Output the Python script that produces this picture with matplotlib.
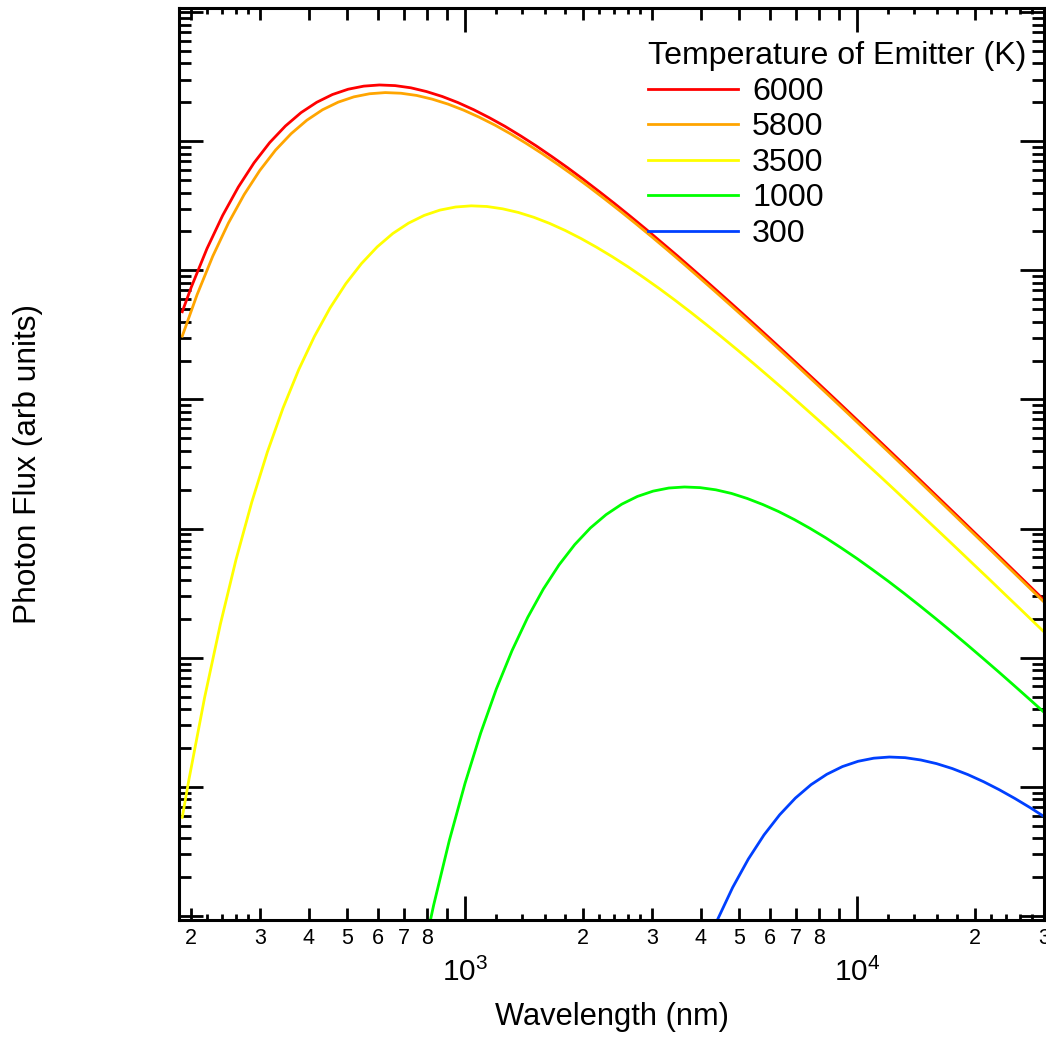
import numpy as np
import matplotlib
matplotlib.use('Agg')
import matplotlib.pyplot as plt
from matplotlib.ticker import LogLocator, FuncFormatter, NullFormatter, NullLocator, FixedLocator

plt.rcParams['font.family'] = ['Liberation Sans', 'DejaVu Sans']
plt.rcParams['mathtext.fontset'] = 'custom'
plt.rcParams['mathtext.rm'] = 'Liberation Sans'
plt.rcParams['mathtext.it'] = 'Liberation Sans:italic'
plt.rcParams['mathtext.bf'] = 'Liberation Sans:bold'

# ---------------------------
# Data
# wavelength in nm, photon flux as log10 (arb units)
# ---------------------------
labels = ['6000', '5800', '3500', '1000', '300']
colors = ['#ff0000', '#ffa500', '#ffff00', '#00ff00', '#0040ff']

wl_6000 = [190, 200.38, 219.71, 240.91, 264.15, 289.63, 317.58, 348.22, 381.81,
           418.65, 459.04, 503.33, 551.89, 605.13, 663.51, 727.53, 797.72,
           874.68, 959.07, 1051.6, 1153.1, 1264.3, 1386.3, 1520.0, 1666.7,
           1827.5, 2003.8, 2197.1, 2409.1, 2641.5, 2896.3, 3175.8, 3482.2,
           3818.1, 4186.5, 4590.4, 5033.3, 5518.9, 6051.3, 6635.1, 7275.3,
           7977.2, 8746.8, 9590.7, 10516, 11531, 12643, 13863, 15200, 16667,
           18275, 20038, 21971, 24091, 26415, 28963, 31758]
log_flux_6000 = [4.679, 4.870, 5.168, 5.425, 5.645, 5.832, 5.989, 6.117, 6.221,
                 6.301, 6.361, 6.402, 6.426, 6.435, 6.430, 6.413, 6.384, 6.346,
                 6.299, 6.244, 6.182, 6.115, 6.041, 5.963, 5.880, 5.794, 5.704,
                 5.611, 5.516, 5.418, 5.318, 5.215, 5.112, 5.006, 4.899, 4.791,
                 4.682, 4.572, 4.461, 4.349, 4.236, 4.123, 4.009, 3.894, 3.779,
                 3.664, 3.548, 3.432, 3.315, 3.198, 3.081, 2.963, 2.846, 2.728,
                 2.610, 2.492, 2.373]

wl_5800 = [190, 207.29, 227.29, 249.21, 273.26, 299.62, 328.53, 360.22, 394.98,
           433.08, 474.87, 520.68, 570.92, 626.00, 686.39, 752.61, 825.22,
           904.84, 992.14, 1087.9, 1192.8, 1307.9, 1434.1, 1572.4, 1724.1,
           1890.5, 2072.9, 2272.9, 2492.1, 2732.6, 2996.2, 3285.3, 3602.2,
           3949.8, 4330.8, 4748.7, 5206.8, 5709.2, 6260.0, 6863.9, 7526.1,
           8252.2, 9048.4, 9921.4, 10879, 11928, 13079, 14341, 15724, 17241,
           18905, 20729, 22729, 24921, 27326, 29962, 32853]
log_flux_5800 = [4.490, 4.811, 5.109, 5.366, 5.586, 5.773, 5.930, 6.058, 6.162,
                 6.243, 6.302, 6.343, 6.367, 6.376, 6.371, 6.354, 6.325, 6.287,
                 6.240, 6.185, 6.124, 6.056, 5.982, 5.904, 5.821, 5.735, 5.645,
                 5.552, 5.457, 5.359, 5.259, 5.157, 5.053, 4.947, 4.840, 4.732,
                 4.623, 4.513, 4.402, 4.290, 4.177, 4.064, 3.950, 3.835, 3.720,
                 3.605, 3.489, 3.373, 3.256, 3.139, 3.022, 2.905, 2.787, 2.669,
                 2.551, 2.433, 2.314]

wl_3500 = [190, 197.67, 216.74, 237.65, 260.57, 285.71, 313.28, 343.50, 376.64,
           412.98, 452.83, 496.51, 544.42, 596.94, 654.53, 717.68, 786.92,
           862.84, 946.09, 1037.4, 1137.4, 1247.2, 1367.5, 1499.4, 1644.1,
           1802.7, 1976.7, 2167.4, 2376.5, 2605.7, 2857.1, 3132.8, 3435.0,
           3766.4, 4129.8, 4528.3, 4965.1, 5444.2, 5969.4, 6545.3, 7176.8,
           7869.2, 8628.4, 9460.9, 10374, 11374, 12472, 13675, 14994, 16441,
           18027, 19767, 21674, 23765, 26057, 28571, 31328]
log_flux_3500 = [0.764, 1.059, 1.694, 2.259, 2.760, 3.203, 3.593, 3.934, 4.231,
                 4.488, 4.709, 4.896, 5.052, 5.181, 5.285, 5.365, 5.425, 5.466,
                 5.490, 5.499, 5.494, 5.476, 5.448, 5.410, 5.363, 5.308, 5.246,
                 5.178, 5.105, 5.027, 4.944, 4.858, 4.768, 4.675, 4.579, 4.481,
                 4.381, 4.279, 4.175, 4.070, 3.963, 3.855, 3.746, 3.636, 3.524,
                 3.413, 3.300, 3.186, 3.072, 2.958, 2.843, 2.727, 2.612, 2.495,
                 2.379, 2.262, 2.145]

wl_1000 = [758.58, 831.76, 912.01, 1000, 1096.5, 1202.3, 1318.3, 1445.4, 1584.9,
           1737.8, 1905.5, 2089.3, 2290.9, 2511.9, 2754.2, 3020.0, 3311.3,
           3630.8, 3981.1, 4365.2, 4786.3, 5248.1, 5754.4, 6309.6, 6918.3,
           7585.8, 8317.6, 9120.1, 10000, 10965, 12023, 13183, 14454, 15849,
           17378, 19055, 20893, 22909, 25119, 27542, 30200]
log_flux_1000 = [-0.482, 0.083, 0.584, 1.026, 1.416, 1.758, 2.055, 2.312, 2.532,
                 2.719, 2.876, 3.005, 3.108, 3.189, 3.249, 3.290, 3.314, 3.322,
                 3.317, 3.300, 3.272, 3.233, 3.186, 3.132, 3.070, 3.002, 2.929,
                 2.850, 2.768, 2.681, 2.592, 2.499, 2.403, 2.305, 2.205, 2.103,
                 1.999, 1.894, 1.787, 1.679, 1.570]

wl_300 = [4007.5, 4394.2, 4818.1, 5283.0, 5792.7, 6351.5, 6964.3, 7636.2, 8373.0,
          9180.8, 10067, 11038, 12103, 13270, 14551, 15954, 17494, 19181, 21032,
          23061, 25286, 27725, 30400]
log_flux_300 = [-0.334, -0.037, 0.221, 0.441, 0.628, 0.784, 0.913, 1.017, 1.097,
                1.157, 1.198, 1.222, 1.231, 1.226, 1.208, 1.180, 1.142, 1.095,
                1.040, 0.978, 0.910, 0.837, 0.759]

# short ticks between 1-2 and 2-3 of each decade
sub_minor = [0.12, 0.14, 0.16, 0.18, 0.22, 0.24, 0.26, 0.28]

series = [(wl_6000, log_flux_6000), (wl_5800, log_flux_5800), (wl_3500, log_flux_3500),
          (wl_1000, log_flux_1000), (wl_300, log_flux_300)]

# ---------------------------
# Figure
# ---------------------------
fig = plt.figure(figsize=(10.46, 10.38), dpi=100)
ax = fig.add_axes([179 / 1046, 118 / 1038, 865 / 1046, 912 / 1038])

for (wl, lf), lab, col in zip(series, labels, colors):
    ax.plot(wl, np.power(10.0, lf), color=col, lw=2.0, label=lab)

ax.set_xscale('log')
ax.set_yscale('log')
ax.set_xlim(186.4, 30000)
ax.set_ylim(10 ** -0.031, 10 ** 7.031)

# x ticks
ax.xaxis.set_major_locator(LogLocator(base=10, numticks=20))
ax.xaxis.set_minor_locator(LogLocator(base=10, subs=np.arange(2, 10), numticks=50))


def minor_label(v, pos):
    m = int(round(v / 10 ** np.floor(np.log10(v) + 1e-9)))
    return str(m) if 2 <= m <= 8 else ''


ax.xaxis.set_minor_formatter(FuncFormatter(minor_label))

# y ticks (no labels)
ax.yaxis.set_major_locator(LogLocator(base=10, numticks=20))
ax.yaxis.set_minor_locator(LogLocator(base=10, subs=np.arange(2, 10), numticks=50))
ax.yaxis.set_major_formatter(NullFormatter())
ax.yaxis.set_minor_formatter(NullFormatter())

ax.tick_params(which='both', direction='in', top=True, right=True, color='black')
ax.tick_params(which='major', length=17, width=2.0)
ax.tick_params(which='minor', length=8.5, width=2.0)
ax.tick_params(axis='x', which='major', labelsize=21.5, pad=27)
ax.tick_params(axis='x', which='minor', labelsize=15.5, pad=6)

for s in ax.spines.values():
    s.set_linewidth(2.2)

# short sub-minor ticks on bottom and top
sub_pos = [f * 10 ** d for d in (3, 4, 5) for f in sub_minor]
for loc in ('bottom', 'top'):
    sec = ax.secondary_xaxis(loc)
    sec.xaxis.set_major_locator(FixedLocator(sub_pos))
    sec.xaxis.set_minor_locator(NullLocator())
    sec.tick_params(which='major', direction='in', length=4.5, width=2.0,
                    labelbottom=False, labeltop=False)
    for s in sec.spines.values():
        s.set_visible(False)

ax.set_xlabel('Wavelength (nm)', fontsize=22.2)
ax.xaxis.set_label_coords(0.5, -0.0896)
ax.set_ylabel('Photon Flux (arb units)', fontsize=22.8)
ax.yaxis.set_label_coords(-0.157, 0.5)

leg = ax.legend(title='Temperature of Emitter (K)', loc='upper left',
                bbox_to_anchor=(0.542, 0.9633), frameon=False, fontsize=23.1,
                title_fontsize=23.1, handlelength=2.8, handletextpad=0.45,
                labelspacing=0.17, borderpad=0, borderaxespad=0)
leg._legend_box.align = 'left'

fig.savefig('out.png', dpi=100)
plt.close(fig)
